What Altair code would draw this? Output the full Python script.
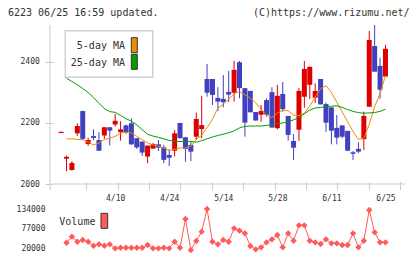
import json
import altair as alt
import pandas as pd

# ---------------- data ----------------
HEADER_LEFT = "6223 06/25 16:59 updated."
HEADER_RIGHT = "(C)https://www.rizumu.net/"
MA_NAMES = ["5-day MA", "25-day MA"]
VOLUME_NAME = "Volume"

day = list(range(61))
opens = [2167, 2083, 2046, 2166, 2239, 2131, 2157, 2144, 2159, 2186, 2195, 2170, 2192, 2199, 2150, 2139,
         2090, 2116, 2130, 2120, 2095, 2109, 2200, 2153, 2128, 2155, 2180, 2344, 2344, 2282, 2279, 2302,
         2299, 2399, 2314, 2305, 2236, 2227, 2275, 2301, 2183, 2295, 2223, 2141, 2178, 2286, 2325, 2283,
         2344, 2262, 2251, 2184, 2192, 2174, 2104, 2115, 2147, 2253, 2452, 2387, 2352]
highs = [2171, 2093, 2075, 2199, 2240, 2152, 2179, 2170, 2186, 2186, 2230, 2206, 2195, 2215, 2150, 2139,
         2126, 2135, 2144, 2128, 2114, 2177, 2200, 2153, 2139, 2234, 2289, 2393, 2344, 2317, 2357, 2370,
         2404, 2403, 2314, 2305, 2236, 2259, 2281, 2317, 2325, 2334, 2223, 2164, 2314, 2403, 2384, 2330,
         2344, 2267, 2251, 2226, 2192, 2174, 2108, 2137, 2237, 2502, 2521, 2414, 2456]
lows = [2167, 2042, 2043, 2158, 2144, 2125, 2144, 2109, 2148, 2126, 2188, 2142, 2165, 2128, 2115, 2092,
        2068, 2116, 2108, 2068, 2059, 2090, 2150, 2073, 2075, 2144, 2150, 2286, 2259, 2239, 2251, 2268,
        2270, 2281, 2155, 2235, 2208, 2204, 2221, 2185, 2179, 2237, 2142, 2079, 2141, 2250, 2279, 2265,
        2261, 2171, 2130, 2130, 2150, 2109, 2079, 2101, 2111, 2253, 2368, 2279, 2352]
closes = [2171, 2089, 2069, 2190, 2148, 2144, 2151, 2109, 2186, 2175, 2207, 2179, 2168, 2130, 2120, 2103,
          2126, 2131, 2119, 2079, 2086, 2166, 2150, 2115, 2106, 2213, 2193, 2299, 2292, 2270, 2268, 2293,
          2374, 2314, 2201, 2235, 2208, 2239, 2227, 2185, 2289, 2245, 2161, 2119, 2305, 2377, 2384, 2305,
          2261, 2201, 2175, 2152, 2155, 2109, 2099, 2106, 2223, 2472, 2368, 2309, 2443]
volume = [None, 36200, 53700, 39100, 44100, 39100, 27500, 31600, 27500, 31600, 20000, 21700, 21700, 21700,
          21700, 21700, 29600, 20000, 20000, 21700, 20000, 39100, 21700, 105000, 15100, 41200, 68200, 134000,
          39100, 31600, 44100, 39100, 78000, 71100, 63500, 26700, 17100, 22900, 37400, 46100, 58600, 22900,
          63500, 42000, 86700, 86700, 42000, 37400, 32500, 46100, 34500, 34500, 29600, 29600, 63500, 22900,
          42000, 131000, 66400, 37400, 37400]
ma5 = [None, 2148, 2148, 2146, 2145, 2137, 2128, 2134, 2146, 2150, 2156, 2167, 2170, 2168, 2156, 2145,
       2135, 2128, 2124, 2118, 2110, 2114, 2118, 2118, 2124, 2146, 2160, 2185, 2212, 2248, 2262, 2278,
       2296, 2303, 2292, 2282, 2266, 2245, 2225, 2218, 2232, 2242, 2240, 2226, 2224, 2232, 2255, 2285,
       2312, 2322, 2300, 2268, 2236, 2204, 2172, 2146, 2150, 2195, 2254, 2296, 2355]
ma25 = [None, 2346, 2336, 2325, 2313, 2300, 2283, 2265, 2247, 2237, 2235, 2225, 2214, 2206, 2194, 2178,
        2163, 2157, 2153, 2148, 2143, 2140, 2139, 2141, 2139, 2137, 2142, 2148, 2154, 2159, 2163, 2168,
        2174, 2184, 2189, 2190, 2190, 2190, 2192, 2195, 2198, 2200, 2205, 2210, 2218, 2230, 2242, 2249,
        2251, 2253, 2255, 2256, 2251, 2244, 2238, 2234, 2232, 2233, 2234, 2238, 2245]
x_label_days = [10, 20, 30, 40, 50, 60]
x_labels = ["4/10", "4/24", "5/14", "5/28", "6/11", "6/25"]
price_ticks = [2000, 2200, 2400]
volume_ticks = [20000, 77000, 134000]

# ---------------- style ----------------
UP, DOWN = "#dd0000", "#4040c0"
C5, C25, CV = "#f08c00", "#00a000", "#ff5a5a"
AXIS, TXT = "#cccccc", "#333333"
FONT = "DejaVu Sans Mono"
W, H = 355, 226
X_DOM = [-1.13, 62.69]

xs = alt.Scale(domain=X_DOM, nice=False, zero=False)
ps = alt.Scale(domain=[2000, 2521], range=[159, 0], nice=False, zero=False)
vs = alt.Scale(domain=[20000, 134000], range=[223.3, 184], nice=False, zero=False)

df = pd.DataFrame(dict(day=day, open=opens, high=highs, low=lows, close=closes,
                       vol=volume, ma5=ma5, ma25=ma25))
df["dir"] = ["up" if c >= o else "down" for o, c in zip(opens, closes)]
one = pd.DataFrame({"k": [0]})

color = alt.Color("dir:N", scale=alt.Scale(domain=["up", "down"], range=[UP, DOWN]), legend=None)

n_div = 11
tick_vals = [X_DOM[0] + k * (X_DOM[1] - X_DOM[0]) / n_div for k in range(1, n_div + 1)]
axis_ticks = alt.Axis(orient="bottom", values=tick_vals, labels=False, domain=False, ticks=True,
                      tickSize=8, tickColor=AXIS, grid=False, title=None, offset=-69.3)
label_expr = f"{json.dumps(x_labels)}[indexof({json.dumps(x_label_days)}, datum.value)]"
axis_labels = alt.Axis(orient="bottom", values=x_label_days, labelExpr=label_expr, ticks=False,
                       tickSize=0, domain=False, grid=False, title=None, offset=-69.3,
                       labelPadding=12.5, labelFont=FONT, labelFontSize=8, labelColor=TXT,
                       labelFlush=False, labelOverlap=False)
axis_price = alt.Axis(orient="left", values=price_ticks, format="d", domain=False, ticks=True,
                      tickSize=8, tickColor=AXIS, grid=False, title=None, offset=-3,
                      labelPadding=5.7, labelFont=FONT, labelFontSize=8, labelColor=TXT,
                      labelFlush=False, labelOverlap=False)
axis_vol = alt.Axis(orient="left", values=volume_ticks, format="d", domain=False, ticks=False,
                    tickSize=0, grid=False, title=None, labelPadding=5, labelFont=FONT,
                    labelFontSize=8, labelColor=TXT, labelFlush=False, labelOverlap=False)

yline = alt.Chart(one).mark_rule(color=AXIS, strokeWidth=1).encode(
    x=alt.value(0), y=alt.value(0), y2=alt.value(165))
xline = alt.Chart(one).mark_rule(color=AXIS, strokeWidth=1).encode(
    x=alt.value(0), x2=alt.value(355.3), y=alt.value(159))

wicks = alt.Chart(df).mark_rule(strokeWidth=1).encode(
    x=alt.X("day:Q", scale=xs, axis=axis_ticks),
    y=alt.Y("low:Q", scale=ps, axis=axis_price),
    y2="high:Q", color=color)
bodies = alt.Chart(df).mark_bar(size=5).encode(
    x=alt.X("day:Q", scale=xs, axis=axis_labels),
    y=alt.Y("open:Q", scale=ps, axis=None),
    y2="close:Q", color=color)
ma5_line = alt.Chart(df).mark_line(color=C5, strokeWidth=1).encode(
    x=alt.X("day:Q", scale=xs, axis=None), y=alt.Y("ma5:Q", scale=ps, axis=None))
ma25_line = alt.Chart(df).mark_line(color=C25, strokeWidth=1).encode(
    x=alt.X("day:Q", scale=xs, axis=None), y=alt.Y("ma25:Q", scale=ps, axis=None))

legend_box = alt.Chart(one).mark_rect(fill="white", stroke="#d0d0d0", strokeWidth=1.5).encode(
    x=alt.value(15.3), x2=alt.value(102.7), y=alt.value(5.7), y2=alt.value(52.3))
leg_txt5 = alt.Chart(one).mark_text(align="right", baseline="middle", font=FONT, fontSize=10,
                                     color=TXT).encode(x=alt.value(75), y=alt.value(21),
                                                       text=alt.value(MA_NAMES[0]))
leg_txt25 = alt.Chart(one).mark_text(align="right", baseline="middle", font=FONT, fontSize=10,
                                      color=TXT).encode(x=alt.value(75), y=alt.value(37.7),
                                                        text=alt.value(MA_NAMES[1]))
leg_sw5 = alt.Chart(one).mark_rect(fill=C5, stroke="#333333", strokeWidth=1).encode(
    x=alt.value(81.3), x2=alt.value(87.3), y=alt.value(12.7), y2=alt.value(27.7))
leg_sw25 = alt.Chart(one).mark_rect(fill=C25, stroke="#333333", strokeWidth=1).encode(
    x=alt.value(81.3), x2=alt.value(87.3), y=alt.value(29.3), y2=alt.value(44.3))

vol_line = alt.Chart(df).mark_line(color=CV, strokeWidth=1).encode(
    x=alt.X("day:Q", scale=xs, axis=None), y=alt.Y("vol:Q", scale=vs, axis=None))
vol_pts = alt.Chart(df).mark_point(shape="diamond", filled=True, size=40, color=CV, opacity=1).encode(
    x=alt.X("day:Q", scale=xs, axis=None), y=alt.Y("vol:Q", scale=vs, axis=axis_vol))
vol_txt = alt.Chart(one).mark_text(align="left", baseline="middle", font=FONT, fontSize=10,
                                    color=TXT).encode(x=alt.value(9.3), y=alt.value(197),
                                                      text=alt.value(VOLUME_NAME))
vol_sw = alt.Chart(one).mark_rect(fill=CV, stroke="#333333", strokeWidth=1).encode(
    x=alt.value(51), x2=alt.value(57.7), y=alt.value(188.3), y2=alt.value(203.3))

head_l = alt.Chart(one).mark_text(align="left", baseline="middle", font=FONT, fontSize=10,
                                   color=TXT).encode(x=alt.value(-42), y=alt.value(-12.5),
                                                     text=alt.value(HEADER_LEFT))
head_r = alt.Chart(one).mark_text(align="right", baseline="middle", font=FONT, fontSize=10,
                                   color=TXT).encode(x=alt.value(359.5), y=alt.value(-12.5),
                                                     text=alt.value(HEADER_RIGHT))

chart = alt.layer(
    yline, xline, wicks, bodies, ma5_line, ma25_line,
    legend_box, leg_txt5, leg_txt25, leg_sw5, leg_sw25,
    vol_line, vol_pts, vol_txt, vol_sw, head_l, head_r,
).resolve_scale(y="independent").resolve_axis(x="independent", y="independent").properties(
    width=W, height=H,
    padding={"left": 50, "top": 25, "right": 15, "bottom": 8},
    autosize=alt.AutoSizeParams(type="none"),
    background="white",
).configure_view(stroke=None)

chart.save("out.html", embed_options={"renderer": "svg", "actions": False})
